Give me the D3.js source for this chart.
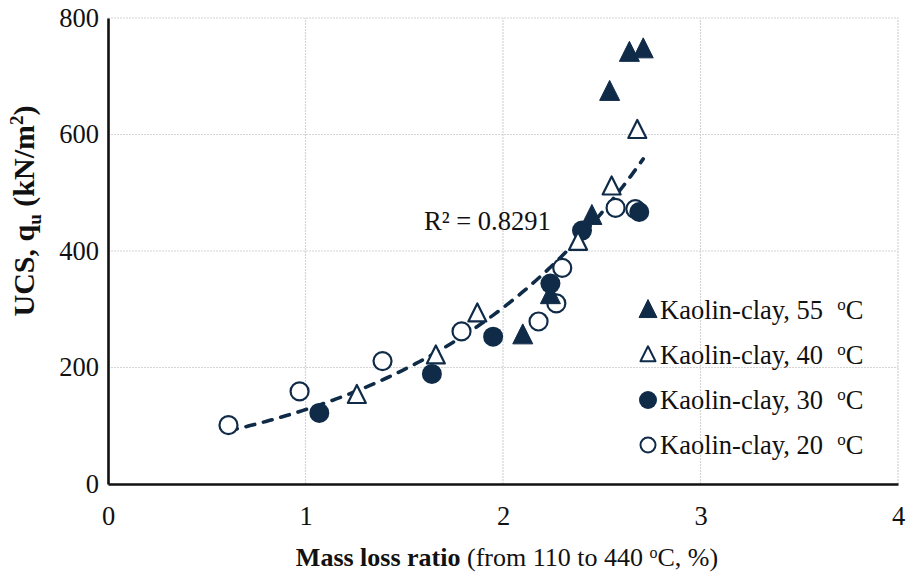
<!DOCTYPE html>
<html>
<head>
<meta charset="utf-8">
<script src="https://cdn.jsdelivr.net/npm/d3@7"></script>
<style>
  html, body { margin: 0; padding: 0; background: #fff; }
  svg text { font-family: "Liberation Serif", "Times New Roman", serif; fill: #111; }
</style>
</head>
<body>
<svg id="chart" width="906" height="576"></svg>
<script>
// UCS versus mass loss ratio, kaolin clay cured at four temperatures
const xTicks = [0, 1, 2, 3, 4];
const yTicks = [0, 200, 400, 600, 800];

const series55 = [[2.10, 255], [2.24, 324], [2.45, 460], [2.54, 673], [2.64, 740], [2.71, 746]];
const series40 = [[1.26, 152], [1.66, 220], [1.87, 292], [2.38, 415], [2.55, 510], [2.68, 607]];
const series30 = [[1.07, 122], [1.64, 189], [1.95, 253], [2.24, 344], [2.40, 435], [2.69, 467]];
const series20 = [[0.61, 101], [0.97, 159], [1.39, 211], [1.79, 262], [2.18, 279], [2.27, 310], [2.30, 371], [2.57, 474], [2.67, 472]];

const seriesNames = ["Kaolin-clay, 55", "Kaolin-clay, 40", "Kaolin-clay, 30", "Kaolin-clay, 20"];
const rSquaredLabel = "R² = 0.8291";

const navy = "#0f2b48";
const svg = d3.select("#chart");
const margin = { left: 108, right: 8, top: 18, bottom: 92 };
const W = 906, H = 576;

const x = d3.scaleLinear().domain([0, 4]).range([margin.left, W - margin.right]);
const y = d3.scaleLinear().domain([0, 800]).range([H - margin.bottom, margin.top]);

// gridlines
const grid = svg.append("g");
grid.selectAll("line.gx").data(xTicks.slice(1)).join("line")
  .attr("x1", d => x(d)).attr("x2", d => x(d))
  .attr("y1", y(0)).attr("y2", y(800))
  .attr("stroke", "#d4d4d4").attr("stroke-width", 1.2).attr("stroke-dasharray", "2,1");
grid.selectAll("line.gy").data(yTicks.slice(1)).join("line")
  .attr("x1", x(0)).attr("x2", x(4))
  .attr("y1", d => y(d)).attr("y2", d => y(d))
  .attr("stroke", "#d4d4d4").attr("stroke-width", 1.2).attr("stroke-dasharray", "2,1");

// axes
const xAxis = svg.append("g").attr("transform", `translate(0,${y(0)})`)
  .call(d3.axisBottom(x).tickValues(xTicks).tickFormat(d3.format("d")).tickSize(0).tickPadding(22));
const yAxis = svg.append("g").attr("transform", `translate(${x(0)},0)`)
  .call(d3.axisLeft(y).tickValues(yTicks).tickFormat(d3.format("d")).tickSize(0).tickPadding(9));
[xAxis, yAxis].forEach(g => {
  g.select(".domain").attr("stroke", "#111").attr("stroke-width", 2.6);
  g.selectAll("text").style("font-size", "26.5px").attr("fill", "#111");
});

// exponential trend fitted through all points (least squares on ln y)
const all = [].concat(series55, series40, series30, series20);
const mx = d3.mean(all, d => d[0]);
const my = d3.mean(all, d => Math.log(d[1]));
const b = d3.sum(all, d => (d[0] - mx) * (Math.log(d[1]) - my)) / d3.sum(all, d => (d[0] - mx) ** 2);
const a = Math.exp(my - b * mx);
const [xmin, xmax] = d3.extent(all, d => d[0]);
const trendPts = d3.range(0, 101).map(i => {
  const xv = xmin + (xmax - xmin) * i / 100;
  return [xv, a * Math.exp(b * xv)];
});
svg.append("path")
  .datum(trendPts)
  .attr("d", d3.line().x(d => x(d[0])).y(d => y(d[1])))
  .attr("fill", "none").attr("stroke", navy).attr("stroke-width", 3.6)
  .attr("stroke-dasharray", "9,9").attr("stroke-linecap", "round");

// marker shapes
const triPath = (cx, cy, s) => `M${cx},${cy - s * 0.58}L${cx + s / 2},${cy + s * 0.42}L${cx - s / 2},${cy + s * 0.42}Z`;

function drawTriangles(data, filled) {
  svg.append("g").selectAll("path").data(data).join("path")
    .attr("d", d => triPath(x(d[0]), y(d[1]), filled ? 20 : 18))
    .attr("fill", filled ? navy : "#fff")
    .attr("stroke", navy).attr("stroke-width", filled ? 1 : 2.2)
    .attr("stroke-linejoin", "round");
}
function drawCircles(data, filled) {
  svg.append("g").selectAll("circle").data(data).join("circle")
    .attr("cx", d => x(d[0])).attr("cy", d => y(d[1]))
    .attr("r", filled ? 10 : 9)
    .attr("fill", filled ? navy : "#fff")
    .attr("stroke", navy).attr("stroke-width", filled ? 0 : 2.2);
}
drawCircles(series20, false);
drawCircles(series30, true);
drawTriangles(series40, false);
drawTriangles(series55, true);

// R² annotation
svg.append("text").attr("x", 424).attr("y", 230)
  .style("font-size", "26.5px").text(rSquaredLabel);

// legend
const legendRows = [
  { name: seriesNames[0], shape: "tri", filled: true },
  { name: seriesNames[1], shape: "tri", filled: false },
  { name: seriesNames[2], shape: "circ", filled: true },
  { name: seriesNames[3], shape: "circ", filled: false }
];
const lg = svg.append("g");
legendRows.forEach((r, i) => {
  const cy = 310 + i * 45;
  if (r.shape === "tri") {
    lg.append("path").attr("d", triPath(648, cy, r.filled ? 18 : 15))
      .attr("fill", r.filled ? navy : "#fff").attr("stroke", navy)
      .attr("stroke-width", r.filled ? 1 : 2).attr("stroke-linejoin", "round");
  } else {
    lg.append("circle").attr("cx", 648).attr("cy", cy).attr("r", r.filled ? 9 : 7.5)
      .attr("fill", r.filled ? navy : "#fff").attr("stroke", navy)
      .attr("stroke-width", r.filled ? 0 : 2);
  }
  const t = lg.append("text").attr("x", 660).attr("y", cy + 9).style("font-size", "26.5px");
  t.append("tspan").text(r.name);
  t.append("tspan").attr("dx", 14).attr("dy", -9).style("font-size", "17px").text("o");
  t.append("tspan").attr("dy", 9).text("C");
});

// axis titles
const xt = svg.append("text").attr("x", 507).attr("y", 566).attr("text-anchor", "middle")
  .style("font-size", "26px");
xt.append("tspan").style("font-weight", "bold").text("Mass loss ratio");
xt.append("tspan").text(" (from 110 to 440 ");
xt.append("tspan").attr("dy", -8).style("font-size", "16px").text("o");
xt.append("tspan").attr("dy", 8).text("C, %)");

const yt = svg.append("text")
  .attr("transform", "translate(34,211) rotate(-90)")
  .attr("text-anchor", "middle").style("font-size", "30px").style("font-weight", "bold");
yt.append("tspan").text("UCS, q");
yt.append("tspan").attr("dy", 7).style("font-size", "19px").text("u");
yt.append("tspan").attr("dy", -7).text(" (kN/m");
yt.append("tspan").attr("dy", -11).style("font-size", "19px").text("2");
yt.append("tspan").attr("dy", 11).text(")");
</script>
</body>
</html>
